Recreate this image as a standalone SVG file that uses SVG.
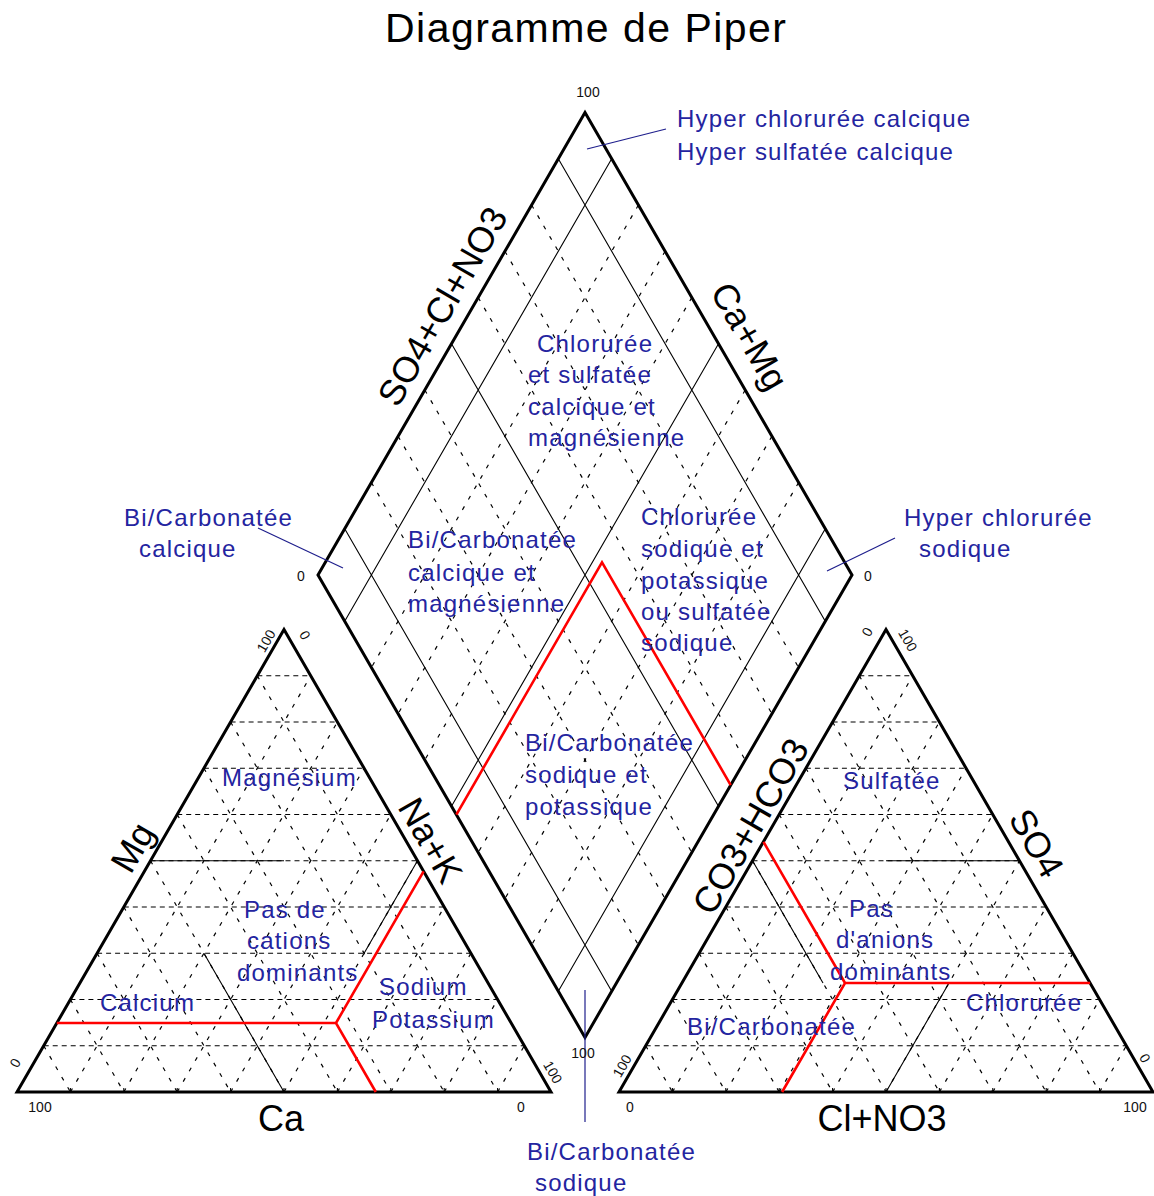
<svg xmlns="http://www.w3.org/2000/svg" xmlns:xlink="http://www.w3.org/1999/xlink" width="1154" height="1196" viewBox="0 0 1154 1196">
<style>
.bg{fill:#ffffff}
.edge{fill:none;stroke:#000;stroke-width:3;stroke-linejoin:miter}
.thin{fill:none;stroke:#000;stroke-width:1.1}
.hd{fill:none;stroke:#000;stroke-width:1.2;stroke-dasharray:5 4}
.dd{fill:none;stroke:#000;stroke-width:1.2;stroke-dasharray:4 8}
.red{fill:none;stroke:#ff0000;stroke-width:2.6}
.lead{fill:none;stroke:#1e1e8c;stroke-width:1.2}
.blue{font-family:"Liberation Sans",Arial,sans-serif;font-size:24px;letter-spacing:1.2px;fill:#2424a0}
.axis{font-family:"Liberation Sans",Arial,sans-serif;font-size:36px;fill:#000;text-anchor:middle}
.tick{font-family:"Liberation Sans",Arial,sans-serif;font-size:14px;fill:#111;text-anchor:middle}
.title{font-family:"Liberation Sans",Arial,sans-serif;font-size:41px;fill:#000}
</style>
<defs>
<g id="triGrid">
<path class="hd" d="M43.7 1045.75H524.3M70.4 999.5H497.6M97.1 953.25H470.9M123.8 907H444.2M150.5 860.75H417.5M177.2 814.5H390.8M203.9 768.25H364.1M230.6 722H337.4M257.3 675.75H310.7"/>
<path class="dd" d="M70.4 1092L310.7 675.75M123.8 1092L337.4 722M177.2 1092L364.1 768.25M230.6 1092L390.8 814.5M284 1092L417.5 860.75M337.4 1092L444.2 907M390.8 1092L470.9 953.25M444.2 1092L497.6 999.5M497.6 1092L524.3 1045.75"/>
<path class="dd" d="M43.7 1045.75L70.4 1092M70.4 999.5L123.8 1092M97.1 953.25L177.2 1092M123.8 907L230.6 1092M150.5 860.75L284 1092M177.2 814.5L337.4 1092M203.9 768.25L390.8 1092M230.6 722L444.2 1092M257.3 675.75L497.6 1092"/>
<path class="thin" d="M70.4 1092v-4M123.8 1092v-4M177.2 1092v-4M230.6 1092v-4M284 1092v-4M337.4 1092v-4M390.8 1092v-4M444.2 1092v-4M497.6 1092v-4"/>
<polygon class="edge" points="17,1092 551,1092 284,629.5"/>
</g>
</defs>
<rect class="bg" x="0" y="0" width="1154" height="1196"/>

<g id="title">
<text class="title" x="385" y="42" textLength="401" lengthAdjust="spacing">Diagramme de Piper</text>
</g>

<g id="diamond">
<path class="thin" d="M558.3 158.75L825.3 621.25M451.5 343.75L718.5 806.25M344.7 528.75L611.7 991.25M611.7 158.75L344.7 621.25M718.5 343.75L451.5 806.25M825.3 528.75L558.3 991.25"/>
<path class="dd" d="M531.6 205L798.6 667.5M504.9 251.25L771.9 713.75M478.2 297.5L745.2 760M424.8 390L691.8 852.5M398.1 436.25L665.1 898.75M371.4 482.5L638.4 945"/>
<path class="dd" d="M638.4 205L371.4 667.5M665.1 251.25L398.1 713.75M691.8 297.5L424.8 760M745.2 390L478.2 852.5M771.9 436.25L504.9 898.75M798.6 482.5L531.6 945"/>
<polygon class="edge" points="585,112.5 852,575 585,1037.5 318,575"/>
<path class="red" d="M456.4 814.7L602 562.3L730.7 785.1"/>
<text class="tick" x="588" y="97">100</text>
<text class="tick" x="301" y="581">0</text>
<text class="tick" x="868" y="581">0</text>
<text class="axis" transform="translate(442,306) rotate(-60)" x="0" y="13">SO4+Cl+NO3</text>
<text class="axis" transform="translate(750,336) rotate(60)" x="0" y="13">Ca+Mg</text>
</g>

<g id="cation-triangle">
<use xlink:href="#triGrid" href="#triGrid"/>
<path class="thin" d="M150.5 860.75H284M284 1092L203.9 953.25M417.5 860.75L364.1 953.25"/>
<path class="red" d="M56.8 1023H336L375.8 1092M336 1023L423.6 871.4"/>
<text class="tick" transform="translate(266,641) rotate(-60)" x="0" y="5">100</text>
<text class="tick" transform="translate(305,635) rotate(60)" x="0" y="5">0</text>
<text class="tick" transform="translate(15,1063) rotate(-60)" x="0" y="5">0</text>
<text class="tick" transform="translate(553,1072) rotate(60)" x="0" y="5">100</text>
<text class="tick" x="40" y="1112">100</text>
<text class="tick" x="521" y="1112">0</text>
<text class="axis" transform="translate(132,847) rotate(-60)" x="0" y="13">Mg</text>
<text class="axis" transform="translate(431,840) rotate(60)" x="0" y="13">Na+K</text>
<text class="axis" x="281" y="1131">Ca</text>
</g>

<g id="anion-triangle">
<use xlink:href="#triGrid" href="#triGrid" x="602"/>
<path class="thin" d="M886 860.75H1019.5M752.5 860.75L823 983M886 1092L949 983"/>
<path class="red" d="M1090.1 983H845L782.1 1092M845 983L763.5 841.9"/>
<text class="tick" transform="translate(867,632) rotate(-60)" x="0" y="5">0</text>
<text class="tick" transform="translate(908,640) rotate(60)" x="0" y="5">100</text>
<text class="tick" transform="translate(622,1066) rotate(-60)" x="0" y="5">100</text>
<text class="tick" transform="translate(1145,1058) rotate(60)" x="0" y="5">0</text>
<text class="tick" x="630" y="1112">0</text>
<text class="tick" x="1135" y="1112">100</text>
<text class="axis" transform="translate(750,826) rotate(-60)" x="0" y="13">CO3+HCO3</text>
<text class="axis" transform="translate(1037,843) rotate(60)" x="0" y="13">SO4</text>
<text class="axis" x="882" y="1131">Cl+NO3</text>
</g>

<g id="connectors">
<path class="lead" d="M587 149L666 129"/>
<path class="lead" d="M258 528L343 568"/>
<path class="lead" d="M827 571L895 538"/>
<path class="lead" d="M585 990V1122"/>
</g>
<text class="tick" x="583" y="1058">100</text>

<g id="label-hyper-calcique">
<text class="blue" x="677" y="127">Hyper chlorurée calcique</text>
<text class="blue" x="677" y="160">Hyper sulfatée calcique</text>
</g>
<g id="label-bicarb-calcique-out">
<text class="blue" x="124" y="526">Bi/Carbonatée</text>
<text class="blue" x="139" y="557">calcique</text>
</g>
<g id="label-hyper-sodique">
<text class="blue" x="904" y="526">Hyper chlorurée</text>
<text class="blue" x="919" y="557">sodique</text>
</g>
<g id="label-bicarb-sodique-out">
<text class="blue" x="527" y="1160">Bi/Carbonatée</text>
<text class="blue" x="535" y="1191">sodique</text>
</g>
<g id="label-chl-sulf-ca-mg">
<text class="blue" x="537" y="352">Chlorurée</text>
<text class="blue" x="528" y="383">et sulfatée</text>
<text class="blue" x="528" y="415">calcique et</text>
<text class="blue" x="528" y="446">magnésienne</text>
</g>
<g id="label-bicarb-ca-mg">
<text class="blue" x="408" y="548">Bi/Carbonatée</text>
<text class="blue" x="408" y="581">calcique et</text>
<text class="blue" x="408" y="612">magnésienne</text>
</g>
<g id="label-chl-na-k">
<text class="blue" x="641" y="525">Chlorurée</text>
<text class="blue" x="641" y="557">sodique et</text>
<text class="blue" x="641" y="589">potassique</text>
<text class="blue" x="641" y="620">ou sulfatée</text>
<text class="blue" x="641" y="651">sodique</text>
</g>
<g id="label-bicarb-na-k">
<text class="blue" x="525" y="751">Bi/Carbonatée</text>
<text class="blue" x="525" y="783">sodique et</text>
<text class="blue" x="525" y="815">potassique</text>
</g>
<g id="label-magnesium">
<text class="blue" x="222" y="786">Magnésium</text>
</g>
<g id="label-pas-cations">
<text class="blue" x="244" y="918">Pas de</text>
<text class="blue" x="247" y="949">cations</text>
<text class="blue" x="237" y="981">dominants</text>
</g>
<g id="label-calcium">
<text class="blue" x="100" y="1011">Calcium</text>
</g>
<g id="label-sodium-potassium">
<text class="blue" x="379" y="995">Sodium</text>
<text class="blue" x="372" y="1028">Potassium</text>
</g>
<g id="label-sulfatee">
<text class="blue" x="843" y="789">Sulfatée</text>
</g>
<g id="label-pas-anions">
<text class="blue" x="849" y="917">Pas</text>
<text class="blue" x="836" y="948">d'anions</text>
<text class="blue" x="830" y="980">dominants</text>
</g>
<g id="label-bicarbonatee">
<text class="blue" x="687" y="1035">Bi/Carbonatée</text>
</g>
<g id="label-chloruree">
<text class="blue" x="966" y="1011">Chlorurée</text>
</g>
</svg>
